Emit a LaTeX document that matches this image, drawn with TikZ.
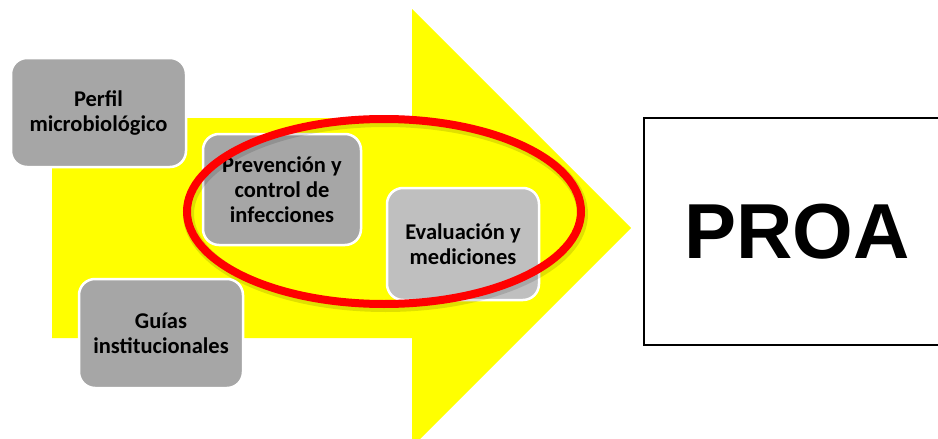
\documentclass[tikz,border=0pt]{standalone}
\usepackage{fontspec}
\setmainfont{Carlito}
\newfontfamily\proafont{Liberation Sans}
\usetikzlibrary{positioning}
\definecolor{arrowyellow}{RGB}{255,255,0}
\definecolor{stagegray}{RGB}{166,166,166}
\definecolor{stagelight}{RGB}{191,191,191}
\definecolor{ringred}{RGB}{255,0,0}

\begin{document}
\begin{tikzpicture}[x=1pt, y=-1pt,
    stage/.style={rectangle, rounded corners=16pt, fill=stagegray, draw=white,
      line width=2.5pt, align=center, inner sep=0pt,
      font=\fontsize{22.5}{25}\selectfont\bfseries}]
    \clip (0,0) rectangle (938,439);
    % --- big yellow arrow ---
    \fill[arrowyellow] (52,118) -- (412,118) -- (412,9) -- (631,228)
      -- (412,447) -- (412,338) -- (52,338) -- cycle;
    % --- stages ---
    \node[stage, minimum width=175pt, minimum height=109pt] (perfil)
      at (98.5,112.5) {Perfil\\microbiológico};
    \node[stage, minimum width=158pt, minimum height=111pt] (prevencion)
      at (282,189.5) {Prevención y\\control de\\infecciones};
    \node[stage, minimum width=164pt, minimum height=109pt] (guias)
      at (161,333.5) {Guías\\institucionales};
    \node[stage, fill=stagelight, minimum width=152pt, minimum height=112pt] (evaluacion)
      at (463,244) {Evaluación y\\mediciones};
    % --- red ring round the two stages, soft shadow ---
    \draw[black, opacity=0.12, line width=11pt] (385.5,214) ellipse (197 and 92.5);
    \draw[ringred, line width=8pt] (384,211.5) ellipse (197 and 92.5);
    % --- PROA box ---
    \node[draw=black, line width=2pt, fill=white, minimum width=306pt,
      minimum height=227pt, inner sep=0pt,
      font=\proafont\fontsize{78}{80}\selectfont\bfseries] (proa)
      at (797,231.5) {PROA};
\end{tikzpicture}
\end{document}
